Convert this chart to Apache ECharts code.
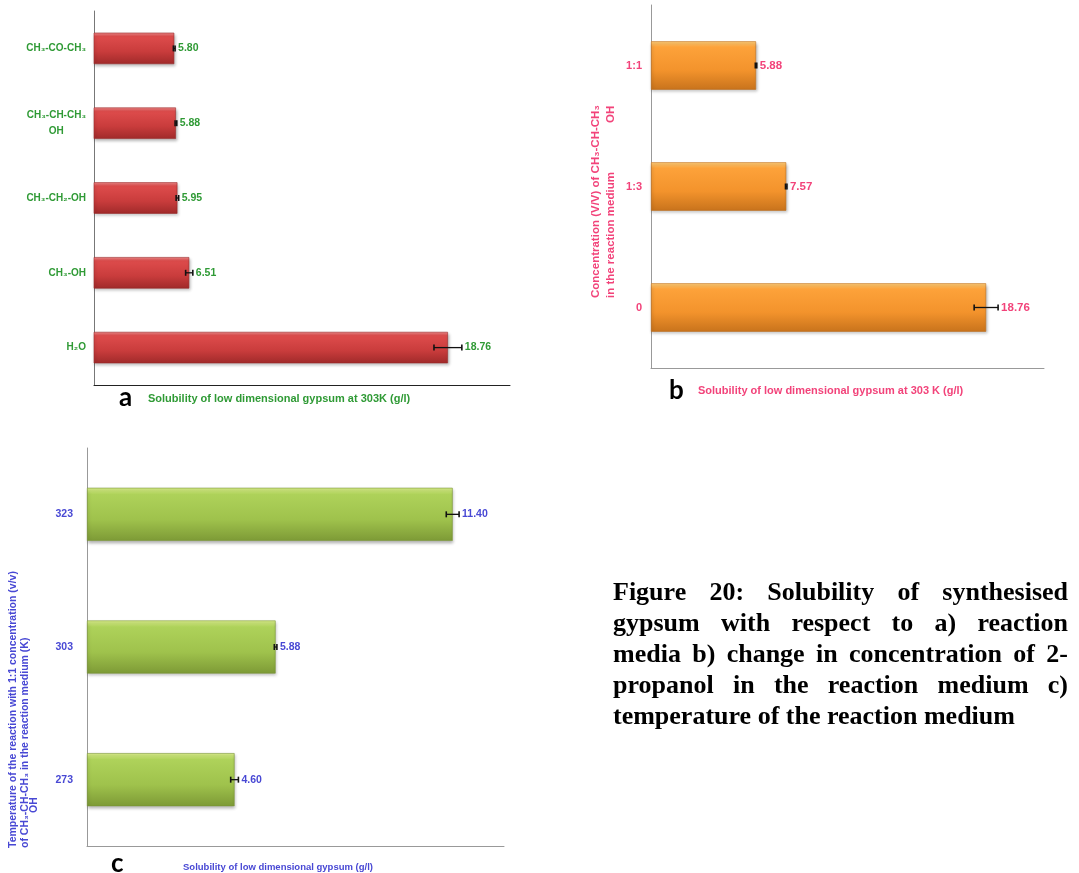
<!DOCTYPE html>
<html><head><meta charset="utf-8">
<script src="https://cdn.jsdelivr.net/npm/echarts@6/dist/echarts.min.js"></script>
<style>html,body{margin:0;padding:0;background:#fff}#c{width:1079px;height:873px}</style>
</head><body><div id="c"></div>
<script>
// ---- data ----
const catsA = ['H₂O', 'CH₃-OH', 'CH₃-CH₂-OH', 'CH₃-CH-CH₃\nOH', 'CH₃-CO-CH₃'];
const valuesA = [18.76, 6.51, 5.95, 5.88, 5.80];
const errA = [0.66, 0.17, 0.06, 0.04, 0.04];

const catsB = ['0', '1:3', '1:1'];
const valuesB = [18.76, 7.57, 5.88];
const errB = [0.67, 0.04, 0.04];

const catsC = ['273', '303', '323'];
const valuesC = [4.60, 5.88, 11.40];
const errC = [0.12, 0.04, 0.20];

const xTitleA = 'Solubility of low dimensional gypsum at 303K (g/l)';
const xTitleB = 'Solubility of low dimensional gypsum at 303 K (g/l)';
const xTitleC = 'Solubility of low dimensional gypsum (g/l)';
const yTitleB = ['Concentration (V/V) of CH₃-CH-CH₃', 'in the reaction medium', 'OH'];
const yTitleC = ['Temperature of the reaction with 1:1 concentration (v/v)', 'of CH₃-CH-CH₃ in the reaction medium (K)', 'OH'];
const captionLines = [
  'Figure 20: Solubility of synthesised',
  'gypsum with respect to a) reaction',
  'media b) change in concentration of 2-',
  'propanol in the reaction medium c)',
  'temperature of the reaction medium'
];

// ---- styling ----
const SANS = '"Liberation Sans", Arial, sans-serif';
const GREEN = '#2f9a35', PINK = '#f2437a', BLUE = '#4848d4';

function grad(c0, c1, c2, c3) {
  return {type: 'linear', x: 0, y: 0, x2: 0, y2: 1,
    colorStops: [{offset: 0, color: c0}, {offset: 0.12, color: c1}, {offset: 0.6, color: c2}, {offset: 1, color: c3}]};
}
const barStyle = (g, border) => ({color: g, borderColor: border, borderWidth: 0.6,
  shadowColor: 'rgba(0,0,0,0.28)', shadowBlur: 3, shadowOffsetX: 1, shadowOffsetY: 2});

function errSeries(idx, vals, errs, color, fs) {
  return {
    type: 'custom', xAxisIndex: idx, yAxisIndex: idx, z: 5, clip: false,
    data: vals.map((v, i) => [v, i, errs[i]]),
    encode: {x: 0, y: 1},
    renderItem: function (params, api) {
      const v = api.value(0), c = api.value(1), e = api.value(2);
      const lo = api.coord([v - e, c]), hi = api.coord([v + e, c]);
      const y = lo[1];
      return {type: 'group', children: [
        {type: 'line', shape: {x1: lo[0], y1: y, x2: hi[0], y2: y}, style: {stroke: '#111', lineWidth: 1.3}},
        {type: 'line', shape: {x1: lo[0], y1: y - 3, x2: lo[0], y2: y + 3}, style: {stroke: '#111', lineWidth: 1.6}},
        {type: 'line', shape: {x1: hi[0], y1: y - 3, x2: hi[0], y2: y + 3}, style: {stroke: '#111', lineWidth: 1.6}},
        {type: 'text', x: hi[0] + 3, y: y, style: {text: v.toFixed(2), fill: color,
          font: 'bold ' + fs + 'px ' + SANS, align: 'left', verticalAlign: 'middle'}}
      ]};
    }
  };
}

// caption justification
const mctx = document.createElement('canvas').getContext('2d');
const CAP_FONT = 'bold 26px "Liberation Serif", "Times New Roman", serif';
mctx.font = CAP_FONT;
const capLeft = 613, capRight = 1068, capTop = 593, capLH = 31;
const captionEls = [];
captionLines.forEach((line, li) => {
  const words = line.split(' ');
  const widths = words.map(w => mctx.measureText(w).width);
  const total = widths.reduce((a, b) => a + b, 0);
  const last = li === captionLines.length - 1;
  const gap = last ? mctx.measureText(' ').width : (capRight - capLeft - total) / (words.length - 1);
  let x = capLeft;
  words.forEach((w, wi) => {
    captionEls.push({type: 'text', x: x, y: capTop + li * capLH,
      style: {text: w, font: CAP_FONT, fill: '#000', align: 'left', verticalAlign: 'middle'}});
    x += widths[wi] + gap;
  });
});

function rotText(x, y, text, color, fs) {
  return {type: 'text', x: x, y: y, rotation: Math.PI / 2,
    style: {text: text, fill: color, font: 'bold ' + fs + 'px ' + SANS, align: 'left', verticalAlign: 'middle'}};
}
function plainText(x, y, text, color, font) {
  return {type: 'text', x: x, y: y, style: {text: text, fill: color, font: font, align: 'left', verticalAlign: 'middle'}};
}

const option = {
  backgroundColor: '#fff',
  animation: false,
  textStyle: {fontFamily: SANS},
  grid: [
    {left: 94, top: 11, width: 416, height: 374},
    {left: 651, top: 5, width: 393, height: 363},
    {left: 87, top: 448, width: 417, height: 398}
  ],
  xAxis: [
    {gridIndex: 0, type: 'value', min: 2, max: 21.7, axisLabel: {show: false}, axisTick: {show: false},
      splitLine: {show: false}, axisLine: {show: true, lineStyle: {color: '#222', width: 1}}},
    {gridIndex: 1, type: 'value', min: 0, max: 22, axisLabel: {show: false}, axisTick: {show: false},
      splitLine: {show: false}, axisLine: {show: true, lineStyle: {color: '#999', width: 1}}},
    {gridIndex: 2, type: 'value', min: 0, max: 13, axisLabel: {show: false}, axisTick: {show: false},
      splitLine: {show: false}, axisLine: {show: true, lineStyle: {color: '#999', width: 1}}}
  ],
  yAxis: [
    {gridIndex: 0, type: 'category', axisTick: {show: false},
      data: catsA.map(c => c.indexOf('\n') >= 0 ? {value: c, textStyle: {padding: [14, 0, 0, 0]}} : c),
      axisLine: {lineStyle: {color: '#777'}},
      axisLabel: {color: GREEN, fontWeight: 'bold', fontSize: 10, margin: 8, lineHeight: 16,
        formatter: v => v.indexOf('\n') >= 0 ? v.replace('\nOH', '\nOH' + '\u00a0'.repeat(8)) : v}},
    {gridIndex: 1, type: 'category', data: catsB, axisTick: {show: false},
      axisLine: {lineStyle: {color: '#999'}},
      axisLabel: {color: PINK, fontWeight: 'bold', fontSize: 11, margin: 9}},
    {gridIndex: 2, type: 'category', data: catsC, axisTick: {show: false},
      axisLine: {lineStyle: {color: '#999'}},
      axisLabel: {color: BLUE, fontWeight: 'bold', fontSize: 10.5, margin: 14}}
  ],
  series: [
    {type: 'bar', xAxisIndex: 0, yAxisIndex: 0, data: valuesA, barWidth: '42%',
      itemStyle: barStyle(grad('#f08a8a', '#de4c4c', '#c93c3c', '#a02a2a'), '#9a2a2a')},
    {type: 'bar', xAxisIndex: 1, yAxisIndex: 1, data: valuesB, barWidth: '40%',
      itemStyle: barStyle(grad('#ffcf7a', '#fda23a', '#f3932c', '#c8731c'), '#c07020')},
    {type: 'bar', xAxisIndex: 2, yAxisIndex: 2, data: valuesC, barWidth: '40%',
      itemStyle: barStyle(grad('#dcf08c', '#aed25a', '#9fc24c', '#7d9a36'), '#7a9636')},
    errSeries(0, valuesA, errA, GREEN, 10.5),
    errSeries(1, valuesB, errB, PINK, 11.5),
    errSeries(2, valuesC, errC, BLUE, 10.5)
  ],
  graphic: [
    plainText(119, 398, 'a', '#000', 'bold 26px Lato, "Liberation Sans", sans-serif'),
    plainText(148, 399, xTitleA, GREEN, 'bold 11px ' + SANS),
    plainText(669, 391, 'b', '#000', 'bold 26px Lato, "Liberation Sans", sans-serif'),
    plainText(698, 391, xTitleB, PINK, 'bold 11px ' + SANS),
    plainText(111, 864, 'c', '#000', 'bold 26px Lato, "Liberation Sans", sans-serif'),
    plainText(183, 867, xTitleC, BLUE, 'bold 9.5px ' + SANS),
    rotText(596, 298, yTitleB[0], PINK, 11.5),
    rotText(611, 298, yTitleB[1], PINK, 11.5),
    rotText(611, 123, yTitleB[2], PINK, 11.5),
    rotText(13.5, 848, yTitleC[0], BLUE, 10.5),
    rotText(25, 848, yTitleC[1], BLUE, 10.5),
    rotText(34, 813, yTitleC[2], BLUE, 10.5)
  ].concat(captionEls)
};

const chart = echarts.init(document.getElementById('c'), null, {renderer: 'canvas'});
chart.setOption(option);
</script>
</body></html>
